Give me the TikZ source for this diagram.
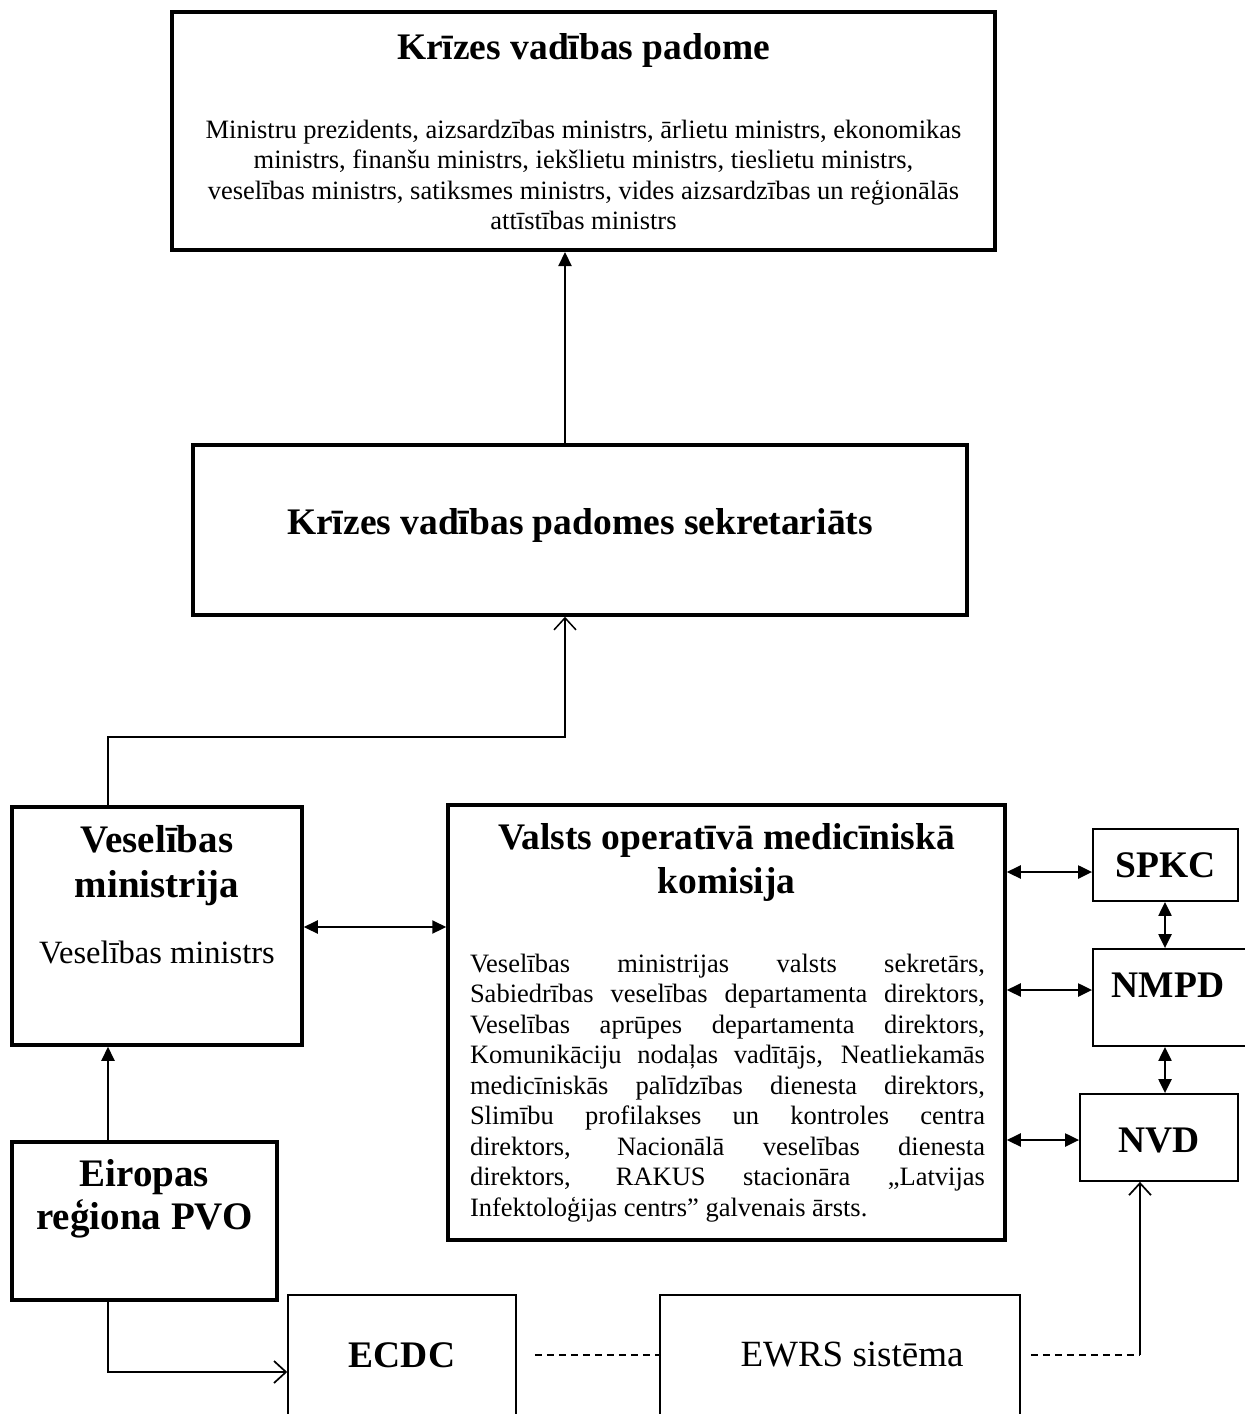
\documentclass[tikz,border=0pt]{standalone}
\usepackage{fontspec}
\setmainfont{Liberation Serif}
\usetikzlibrary{arrows.meta}
\begin{document}
\begin{tikzpicture}[x=1pt, y=-1pt]
        % Define styles
        \tikzstyle{boxframe}=[rectangle, draw, line width=3.5pt]
        \tikzstyle{thinframe}=[rectangle, draw, line width=1.8pt]
        \tikzstyle{headtext}=[align=center, font=\fontsize{37.5}{44}\selectfont\bfseries]
        \tikzstyle{bodytext}=[align=center, font=\fontsize{26.5}{30.5}\selectfont]
        \tikzstyle{arrow}=[line width=2.2pt, -{Triangle[length=14pt, width=13pt]}]
        \tikzstyle{twoway}=[line width=2.2pt, {Triangle[length=14pt, width=13pt]}-{Triangle[length=14pt, width=13pt]}]
        \tikzstyle{openarrow}=[line width=1.7pt, -{Straight Barb[length=12pt, width=22pt]}]
        \tikzstyle{dashlink}=[line width=1.6pt, dash pattern=on 7pt off 5pt]

        \useasboundingbox (0,0) rectangle (1245,1414);
        \clip (0,0) rectangle (1245,1414);

        % Krizes vadibas padome
        \node[boxframe, line width=4pt, minimum width=823pt, minimum height=238pt] (padome) at (583.5,131) {};
        \node[headtext] (padomeT) at (583.5,50) {Krīzes vadības padome};
        \node[bodytext] (padomeB) at (583.5,175) {
            Ministru prezidents, aizsardzības ministrs, ārlietu ministrs, ekonomikas\\
            ministrs, finanšu ministrs, iekšlietu ministrs, tieslietu ministrs,\\
            veselības ministrs, satiksmes ministrs, vides aizsardzības un reģionālās\\
            attīstības ministrs
        };

        % Sekretariats
        \node[boxframe, minimum width=774pt, minimum height=170pt] (sekr) at (580,530) {};
        \node[headtext] (sekrT) at (580,525) {Krīzes vadības padomes sekretariāts};

        % Veselibas ministrija
        \node[boxframe, minimum width=290pt, minimum height=238pt] (vm) at (157,926) {};
        \node[headtext, font=\fontsize{39}{45}\selectfont\bfseries] (vmT) at (157,866) {Veselības\\ministrija};
        \node[font=\fontsize{32.5}{38}\selectfont] (vmB) at (157,952) {Veselības ministrs};

        % Eiropas regiona PVO
        \node[boxframe, minimum width=265pt, minimum height=158pt] (pvo) at (144.5,1221) {};
        \node[headtext, font=\fontsize{39}{43}\selectfont\bfseries] (pvoT) at (144.5,1199) {Eiropas\\reģiona PVO};

        % Valsts operativa mediciniska komisija
        \node[boxframe, minimum width=557pt, minimum height=435pt] (komisija) at (726.5,1022.5) {};
        \node[headtext] (komisijaT) at (726.5,862) {Valsts operatīvā medicīniskā\\komisija};
        \node[bodytext, text width=515pt, align=justify] (komisijaB) at (727.5,1088) {%
            Veselības ministrijas valsts sekretārs,\linebreak
            Sabiedrības veselības departamenta direktors,\linebreak
            Veselības aprūpes departamenta direktors,\linebreak
            Komunikāciju nodaļas vadītājs, Neatliekamās\linebreak
            medicīniskās palīdzības dienesta direktors,\linebreak
            Slimību profilakses un kontroles centra\linebreak
            direktors, Nacionālā veselības dienesta\linebreak
            direktors, RAKUS stacionāra „Latvijas\linebreak
            Infektoloģijas centrs” galvenais ārsts.};

        % SPKC, NMPD, NVD
        \node[thinframe, minimum width=145pt, minimum height=72pt] (spkc) at (1165.5,865) {};
        \node[headtext] (spkcT) at (1165.5,865) {SPKC};
        \node[thinframe, minimum width=167pt, minimum height=97pt] (nmpd) at (1176.5,997.5) {};
        \node[headtext] (nmpdT) at (1168,985) {NMPD};
        \node[thinframe, minimum width=158pt, minimum height=87pt] (nvd) at (1159,1137.5) {};
        \node[headtext] (nvdT) at (1159,1140) {NVD};

        % ECDC, EWRS
        \node[thinframe, line width=1.5pt, minimum width=228pt, minimum height=145pt] (ecdc) at (402,1367.5) {};
        \node[headtext] (ecdcT) at (402,1355) {ECDC};
        \node[thinframe, line width=1.5pt, minimum width=360pt, minimum height=145pt] (ewrs) at (840,1367.5) {};
        \node[font=\fontsize{37}{42}\selectfont] (ewrsT) at (852,1355) {EWRS sistēma};

        % Arrows
        \coordinate (spine) at (565,737);
        \coordinate (vmx) at (108,737);
        \coordinate (vmrow) at (375,927);
        \coordinate (pvox) at (108,1372);
        \coordinate (ewrsx) at (1140,1355);
        \coordinate (sidex) at (1165,990);

        \draw[arrow] (sekr.north -| spine) -- (padome.south -| spine);
        \draw[openarrow, line width=1.5pt] (vm.north -| vmx) -- (vmx) -- (spine) -- (sekr.south -| spine);
        \draw[arrow] (pvo.north -| vmx) -- (vm.south -| vmx);
        \draw[openarrow] (pvo.south -| pvox) -- (pvox) -- (ecdc.west |- pvox);
        \draw[twoway] (vm.east |- vmrow) -- (komisija.west |- vmrow);
        \draw[twoway] (komisija.east |- 0,872) -- (spkc.west |- 0,872);
        \draw[twoway] (komisija.east |- sidex) -- (nmpd.west |- sidex);
        \draw[twoway] (komisija.east |- 0,1140) -- (nvd.west |- 0,1140);
        \draw[twoway] (spkc.south -| sidex) -- (nmpd.north -| sidex);
        \draw[twoway] (nmpd.south -| sidex) -- (nvd.north -| sidex);
        \draw[dashlink, shorten <=18pt] (ecdc.east |- ewrsx) -- (ewrs.west |- ewrsx);
        \draw[dashlink, shorten <=10pt] (ewrs.east |- ewrsx) -- (ewrsx);
        \draw[openarrow] (ewrsx) -- (nvd.south -| ewrsx);
\end{tikzpicture}
\end{document}
